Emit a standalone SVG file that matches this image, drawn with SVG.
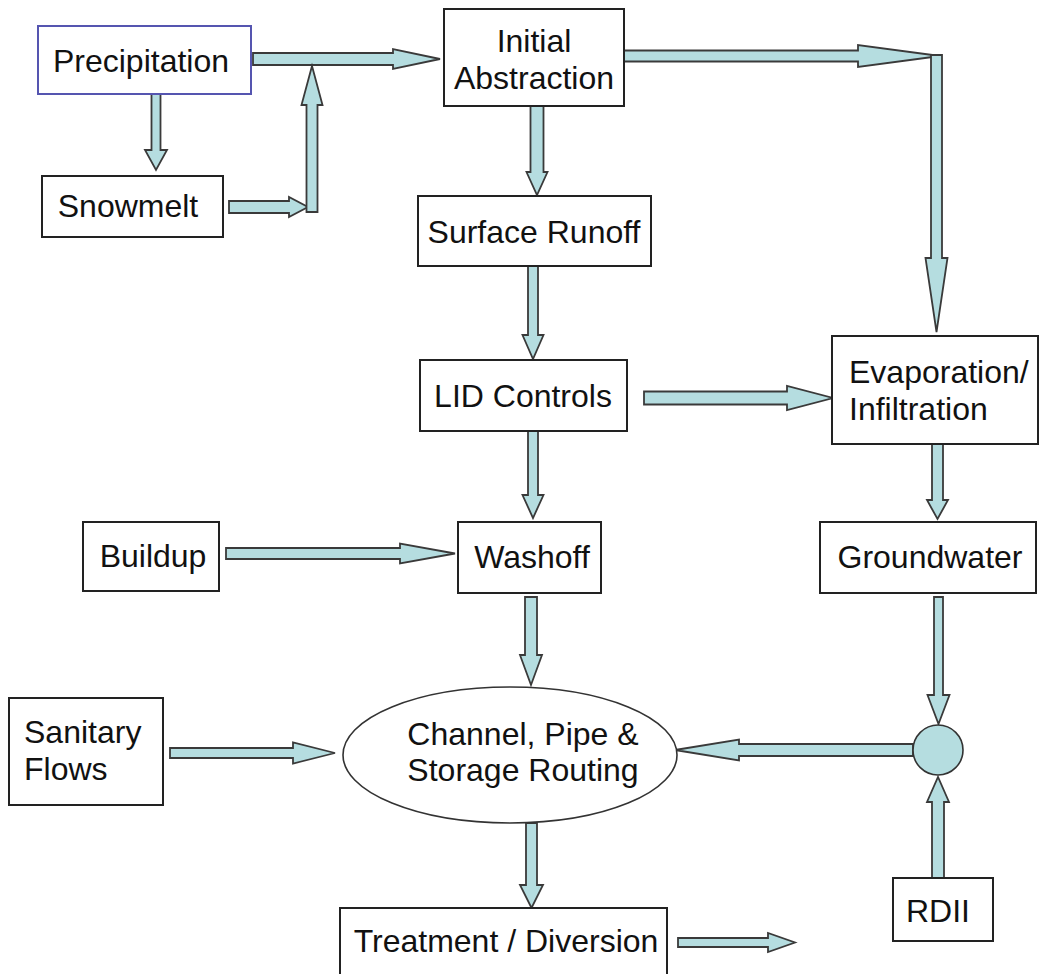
<svg xmlns="http://www.w3.org/2000/svg" width="1040" height="974" viewBox="0 0 1040 974">
<style>
.box{fill:#ffffff;stroke:#222222;stroke-width:2}
.blue{stroke:#5555b0}
.t{font-family:"Liberation Sans",Arial,sans-serif;font-size:32px;fill:#111111}
.c{text-anchor:middle}
.arr{fill:#b5dde0;stroke:#3a3a3a;stroke-width:1.8;stroke-linejoin:miter}
.ell{fill:#ffffff;stroke:#333333;stroke-width:1.6}
.junc{fill:#b5dde0;stroke:#333333;stroke-width:1.6}
</style>
<rect width="1040" height="974" fill="#ffffff"/>
<g id="connectors">
<polygon class="arr" points="253,53 393,53 393,49 440,59 393,69 393,65 253,65"/>
<polygon class="arr" points="229,201 289,201 289,197 308,207 289,217 289,213 229,213"/>
<polygon class="arr" points="306.5,212 306.5,105 301.5,105 312,66 322.5,105 317.5,105 317.5,212"/>
<polygon class="arr" points="151.5,94 160.5,94 160.5,150 167,150 156,170 145,150 151.5,150"/>
<polygon class="arr" points="530.5,106 543.5,106 543.5,172 547.5,172 537,195 526.5,172 530.5,172"/>
<polygon class="arr" points="624,50.5 858,50.5 858,45 940,56 858,67 858,61.5 624,61.5"/>
<polygon class="arr" points="931,55 942,55 942,258 947.5,258 936.5,332 925.5,258 931,258"/>
<polygon class="arr" points="528,266 538,266 538,335 543.5,335 533,359 522.5,335 528,335"/>
<polygon class="arr" points="528,431 538,431 538,495 543.5,495 533,518 522.5,495 528,495"/>
<polygon class="arr" points="644,391.5 787,391.5 787,386 833,398 787,410 787,404.5 644,404.5"/>
<polygon class="arr" points="932,444 943,444 943,500 948,500 937.5,519 927,500 932,500"/>
<polygon class="arr" points="226,548 400,548 400,543.5 455,553.5 400,563.5 400,559 226,559"/>
<polygon class="arr" points="525,597 537,597 537,655 542,655 531,685 520,655 525,655"/>
<polygon class="arr" points="934,597 943,597 943,695 949.5,695 938.5,724 927.5,695 934,695"/>
<polygon class="arr" points="932,878 944,878 944,802 949,802 938,777 927,802 932,802"/>
<polygon class="arr" points="913,744 739,744 739,739.5 675,750 739,760.5 739,756 913,756"/>
<polygon class="arr" points="170,748 293,748 293,742.5 335,753 293,763.5 293,758 170,758"/>
<polygon class="arr" points="526,823 537,823 537,885 543,885 531.5,908 520,885 526,885"/>
<polygon class="arr" points="678,938 768,938 768,933 795,942.5 768,952 768,947 678,947"/>
</g>
<g id="precipitation">
<rect class="box blue" x="38" y="26" width="213" height="68"/>
<text class="t c" x="141" y="72">Precipitation</text>
</g>
<g id="initial-abstraction">
<rect class="box" x="444" y="9" width="180" height="97"/>
<text class="t c" x="534" y="52">Initial</text>
<text class="t c" x="534" y="89">Abstraction</text>
</g>
<g id="snowmelt">
<rect class="box" x="42" y="176" width="181" height="61"/>
<text class="t c" x="128" y="217">Snowmelt</text>
</g>
<g id="surface-runoff">
<rect class="box" x="418" y="196" width="233" height="70"/>
<text class="t c" x="534" y="243">Surface Runoff</text>
</g>
<g id="lid-controls">
<rect class="box" x="420" y="360" width="207" height="71"/>
<text class="t c" x="523" y="407">LID Controls</text>
</g>
<g id="evaporation">
<rect class="box" x="832" y="336" width="206" height="108"/>
<text class="t" x="849" y="383">Evaporation/</text>
<text class="t" x="849" y="420">Infiltration</text>
</g>
<g id="buildup">
<rect class="box" x="83" y="522" width="136" height="69"/>
<text class="t c" x="153" y="567">Buildup</text>
</g>
<g id="washoff">
<rect class="box" x="458" y="522" width="143" height="71"/>
<text class="t c" x="532" y="568">Washoff</text>
</g>
<g id="groundwater">
<rect class="box" x="820" y="522" width="216" height="71"/>
<text class="t c" x="930" y="568">Groundwater</text>
</g>
<g id="sanitary-flows">
<rect class="box" x="9" y="698" width="154" height="107"/>
<text class="t" x="24" y="743">Sanitary</text>
<text class="t" x="24" y="780">Flows</text>
</g>
<g id="routing">
<ellipse class="ell" cx="510" cy="755" rx="167" ry="68"/>
<text class="t c" x="523" y="745">Channel, Pipe &amp;</text>
<text class="t c" x="523" y="781">Storage Routing</text>
</g>
<g id="junction">
<circle class="junc" cx="938" cy="750" r="25"/>
</g>
<g id="treatment">
<rect class="box" x="340" y="908" width="327" height="72"/>
<text class="t c" x="506" y="952">Treatment / Diversion</text>
</g>
<g id="rdii">
<rect class="box" x="893" y="878" width="100" height="63"/>
<text class="t c" x="938" y="922">RDII</text>
</g>
</svg>
